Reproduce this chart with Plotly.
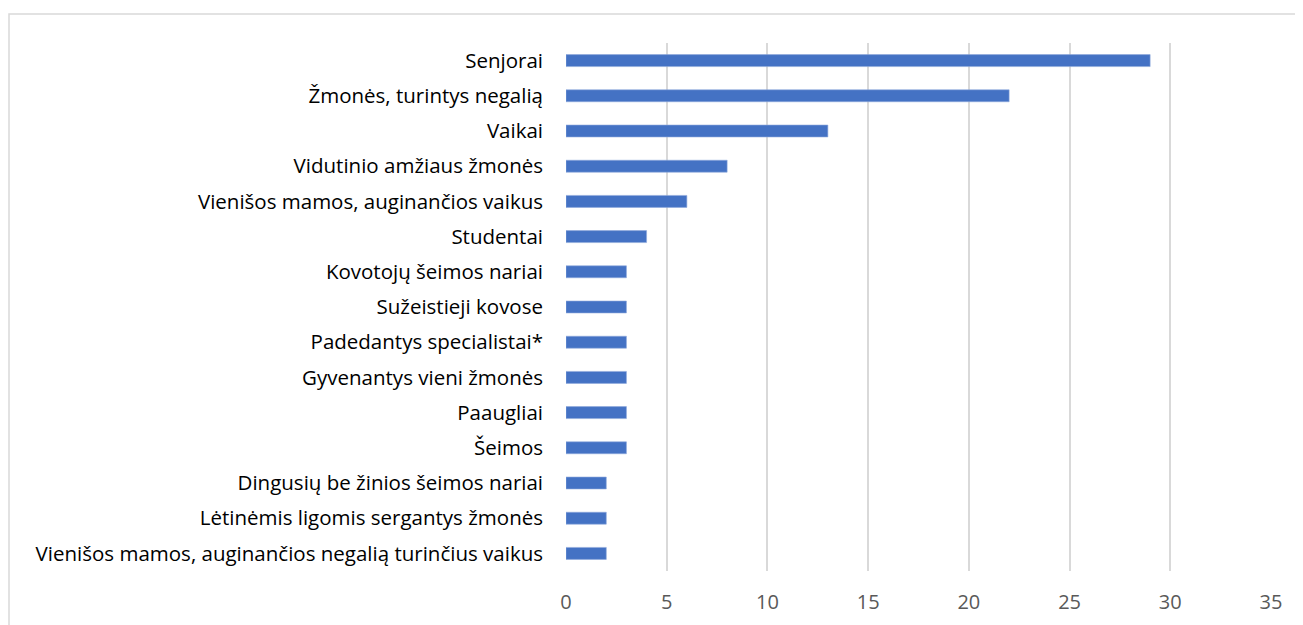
import plotly.graph_objects as go

categories = [
    "Senjorai",
    "Žmonės, turintys negalią",
    "Vaikai",
    "Vidutinio amžiaus žmonės",
    "Vienišos mamos, auginančios vaikus",
    "Studentai",
    "Kovotojų šeimos nariai",
    "Sužeistieji kovose",
    "Padedantys specialistai*",
    "Gyvenantys vieni žmonės",
    "Paaugliai",
    "Šeimos",
    "Dingusių be žinios šeimos nariai",
    "Lėtinėmis ligomis sergantys žmonės",
    "Vienišos mamos, auginančios negalią turinčius vaikus",
]
values = [29, 22, 13, 8, 6, 4, 3, 3, 3, 3, 3, 3, 2, 2, 2]
x_ticks = [0, 5, 10, 15, 20, 25, 30, 35]

W, H = 1303, 625
OFF = 8  # page body margin
L, R, T, B = 566 - OFF, W + OFF - 1271, 43 - OFF, H + OFF - 571
pw = W - L - R
ph = H - T - B

fig = go.Figure(go.Bar(
    y=categories, x=values, orientation="h",
    marker=dict(color="#4472C4", line=dict(color="#8fa9dc", width=0.6)),
    width=0.34,
))

fig.update_layout(
    width=W, height=H,
    margin=dict(l=L, r=R, t=T, b=B, pad=0),
    paper_bgcolor="white", plot_bgcolor="white",
    font=dict(family="Open Sans, Lato, sans-serif", size=20.5, color="#000000"),
    showlegend=False,
    xaxis=dict(range=[0, 35], tickvals=x_ticks, showgrid=True, gridcolor="#d9d9d9", gridwidth=1.5,
               zeroline=False, showline=False, ticks="",
               tickfont=dict(size=20, color="#595959"), ticklabelstandoff=17),
    yaxis=dict(autorange="reversed", categoryorder="array", categoryarray=categories,
               showgrid=False, zeroline=False, showline=False, ticks="",
               tickfont=dict(size=20.5, color="#000000"), ticklabelstandoff=22),
)

fig.add_shape(type="rect", xref="paper", yref="paper",
              x0=(9 - 566) / pw, x1=(W + 30 - 566) / pw,
              y0=-(60) / ph, y1=1 + (43 - 14) / ph,
              line=dict(color="#d9d9d9", width=1.5), fillcolor="rgba(0,0,0,0)", layer="below")

fig.write_html("out.html")
